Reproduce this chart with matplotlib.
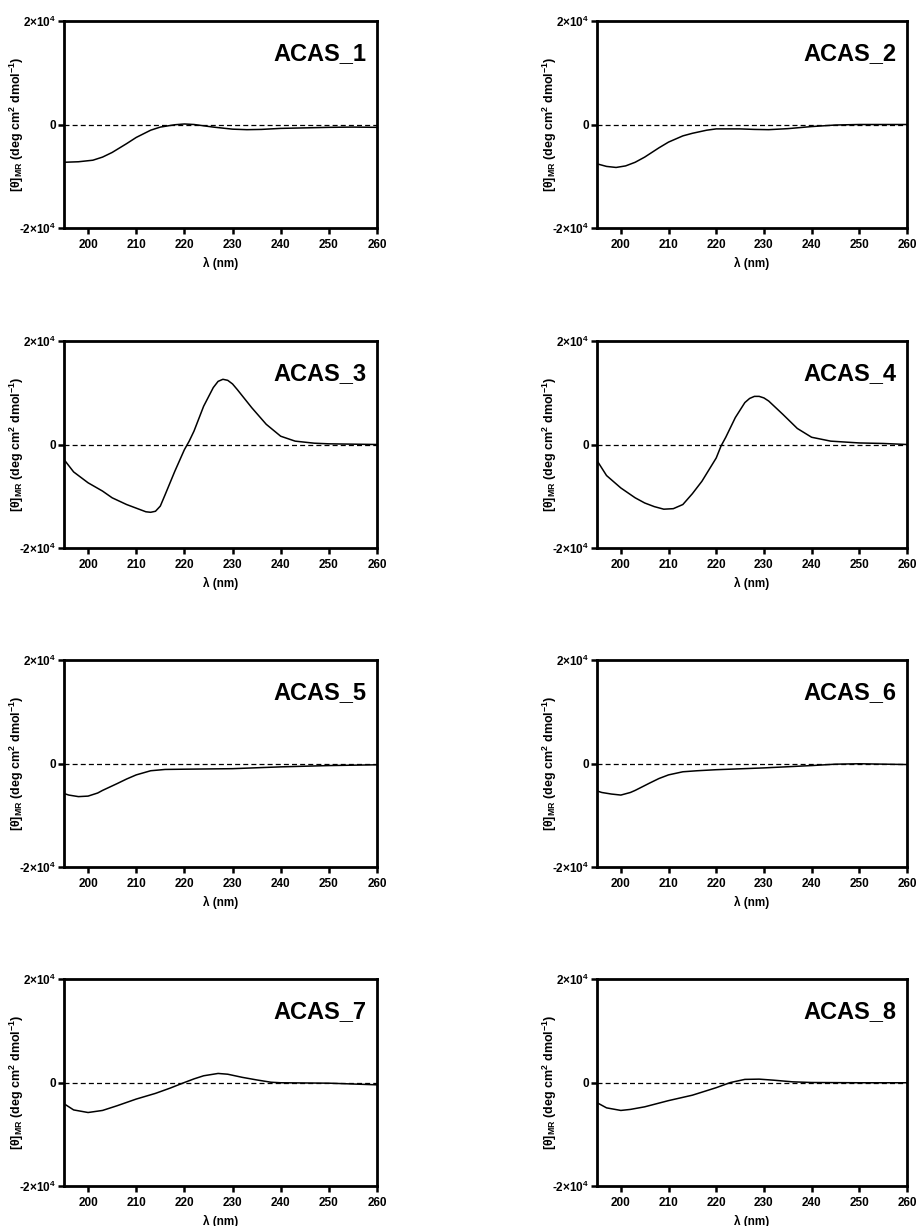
import matplotlib
matplotlib.use("Agg")
import matplotlib.pyplot as plt

plt.rcParams['font.family'] = ['Liberation Sans', 'DejaVu Sans']
plt.rcParams['mathtext.fontset'] = 'custom'
plt.rcParams['mathtext.rm'] = 'Liberation Sans:bold'
plt.rcParams['mathtext.bf'] = 'Liberation Sans:bold'
plt.rcParams['mathtext.it'] = 'Liberation Sans:bold'
plt.rcParams['mathtext.default'] = 'bf'

titles = ["ACAS_1", "ACAS_2", "ACAS_3", "ACAS_4", "ACAS_5", "ACAS_6", "ACAS_7", "ACAS_8"]

wl_1 = [195, 198, 201, 203, 205, 208, 210, 213, 215, 218, 220, 222, 224, 226, 230, 233, 236, 240, 245, 250, 255, 260]
cd_1 = [-7300, -7200, -6900, -6300, -5400, -3700, -2500, -1100, -500, -50, 100, 0, -250, -500, -900, -1000, -950, -750, -650, -550, -500, -550]

wl_2 = [195, 197, 199, 201, 203, 205, 208, 210, 213, 215, 218, 220, 225, 228, 231, 235, 240, 245, 250, 260]
cd_2 = [-7600, -8100, -8300, -8000, -7300, -6300, -4500, -3400, -2200, -1700, -1100, -850, -850, -950, -1000, -800, -400, -100, 0, 0]

wl_3 = [195, 197, 200, 203, 205, 208, 210, 212, 213, 214, 215, 216, 218, 220, 221, 222, 224, 226, 227, 228, 229, 230, 231, 234, 237, 240, 243, 247, 250, 260]
cd_3 = [-2900, -5300, -7400, -9000, -10300, -11600, -12300, -13000, -13100, -12900, -11900, -9700, -5200, -1000, 650, 2600, 7400, 11000, 12200, 12600, 12400, 11700, 10600, 7100, 3900, 1600, 650, 250, 130, 0]

wl_4 = [195, 197, 200, 203, 205, 207, 209, 211, 213, 215, 217, 220, 221, 222, 224, 226, 227, 228, 229, 230, 231, 234, 237, 240, 244, 250, 255, 260]
cd_4 = [-3100, -6000, -8400, -10300, -11300, -12000, -12500, -12400, -11600, -9500, -7100, -2600, -300, 1400, 5200, 8100, 8900, 9300, 9300, 9000, 8400, 5800, 3100, 1400, 650, 300, 200, 0]

wl_5 = [195, 196, 198, 200, 202, 203, 206, 208, 210, 213, 216, 220, 230, 240, 250, 260]
cd_5 = [-5800, -6100, -6400, -6300, -5700, -5200, -3900, -3000, -2200, -1400, -1150, -1100, -1000, -650, -400, -250]

wl_6 = [195, 196, 198, 200, 202, 203, 206, 208, 210, 213, 216, 220, 230, 240, 245, 250, 260]
cd_6 = [-5300, -5600, -5900, -6100, -5600, -5200, -3800, -2900, -2200, -1600, -1400, -1200, -850, -400, -130, -50, -200]

wl_7 = [195, 197, 200, 203, 206, 210, 214, 217, 220, 222, 224, 227, 229, 232, 235, 238, 240, 250, 260]
cd_7 = [-4100, -5300, -5800, -5400, -4500, -3200, -2100, -1100, 0, 700, 1300, 1750, 1600, 1000, 500, 50, -50, -130, -450]

wl_8 = [195, 197, 200, 202, 205, 210, 215, 220, 223, 226, 229, 232, 236, 240, 250, 260]
cd_8 = [-3900, -4900, -5400, -5200, -4700, -3500, -2450, -1000, 0, 600, 650, 450, 130, 0, -50, -50]

wavelengths = [wl_1, wl_2, wl_3, wl_4, wl_5, wl_6, wl_7, wl_8]
signals = [cd_1, cd_2, cd_3, cd_4, cd_5, cd_6, cd_7, cd_8]

x_ticks = [200, 210, 220, 230, 240, 250, 260]
y_ticks = [-20000, 0, 20000]
y_ticklabels = [r"-2×10$^{4}$", "0", r"2×10$^{4}$"]

W, H = 917, 1226
fig = plt.figure(figsize=(W / 100, H / 100), dpi=100)

col_x = [(64, 313), (597, 310)]
row_top = [21, 341, 660, 979]
ax_h = 207

for i in range(8):
    r, c = divmod(i, 2)
    x0, w = col_x[c]
    top = row_top[r]
    ax = fig.add_axes([x0 / W, 1 - (top + ax_h) / H, w / W, ax_h / H])
    ax.plot(wavelengths[i], signals[i], color='black', lw=1.1)
    ax.axhline(0, color='black', lw=0.9, linestyle=(0, (4, 2.5)))
    ax.set_xlim(195, 260)
    ax.set_ylim(-20000, 20000)
    ax.set_xticks(x_ticks)
    ax.set_xticklabels([str(t) for t in x_ticks], fontweight='bold', fontsize=8.5)
    ax.set_yticks(y_ticks)
    ax.set_yticklabels(y_ticklabels, fontweight='bold', fontsize=8.5)
    for s in ax.spines.values():
        s.set_linewidth(2.0)
    ax.tick_params(direction='out', length=4, width=1.8, pad=2)
    ax.tick_params(axis='x', pad=4)
    ax.set_xlabel("λ (nm)", fontweight='bold', fontsize=8.5, labelpad=4)
    ax.set_ylabel(r"[θ]$_{MR}$ (deg cm$^{2}$ dmol$^{-1}$)", fontweight='bold', fontsize=9)
    ax.yaxis.set_label_coords(-38 / w, 0.5)
    ax.text(0.965, 0.90, titles[i], transform=ax.transAxes, ha='right', va='top',
            fontsize=17, fontweight='bold')

fig.savefig("out.png", dpi=100)
